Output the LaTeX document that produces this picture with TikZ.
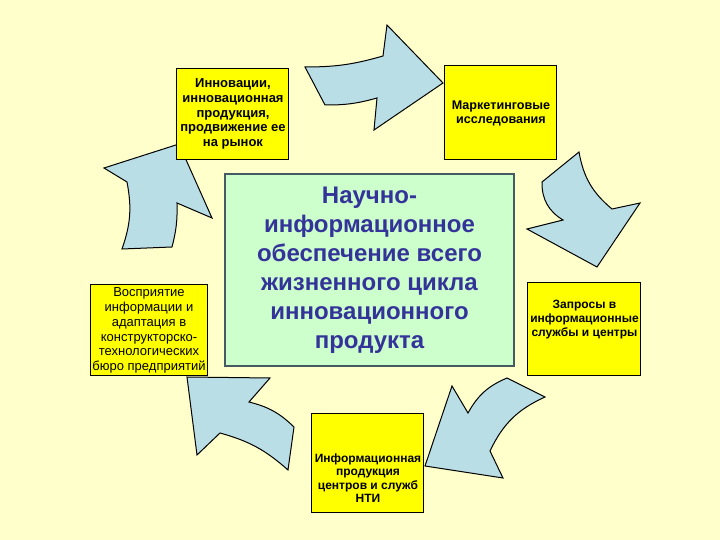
\documentclass[tikz,border=0pt]{standalone}
\usepackage{fontspec}
\setmainfont{Liberation Sans}
\usetikzlibrary{shapes,positioning}

\definecolor{bgyellow}{RGB}{255,255,204}
\definecolor{boxyellow}{RGB}{255,255,0}
\definecolor{corefill}{RGB}{204,255,204}
\definecolor{coretext}{RGB}{51,51,153}
\definecolor{coreline}{RGB}{70,90,100}
\definecolor{arrowblue}{RGB}{185,222,230}

\begin{document}
\begin{tikzpicture}[x=0.5pt, y=-0.5pt,
  infobox/.style={rectangle, draw=black, line width=0.5pt, fill=boxyellow, inner sep=1pt, align=center, font=\bfseries\fontsize{6.3}{7}\selectfont},
  corebox/.style={rectangle, draw=coreline, line width=0.6pt, fill=corefill, text=coretext, align=center, font=\bfseries\fontsize{12}{14.5}\selectfont},
  cyclearrow/.style={draw=black, line width=0.5pt, fill=arrowblue, line join=miter}]
\useasboundingbox (0,0) rectangle (720,540);
\fill[bgyellow] (0,0) rectangle (720,540);

\draw[cyclearrow] (305,67) to[bend right=8] (383,56) -- (387,25) -- (443,83) -- (374,130) -- (377,98) to[bend left=8] (325,105) -- cycle;
\draw[cyclearrow] (579,152) to[bend right=20] (612,209) -- (640,203) -- (597,267) -- (527,229) -- (563,220) to[bend left=30] (542,182) -- cycle;
\draw[cyclearrow] (545,397) to[bend right=20] (490,451) -- (503,478) -- (425,466) -- (452,386) -- (468,413) to[bend left=19] (507,378) -- cycle;
\draw[cyclearrow] (288,470) to[bend right=13] (220,433) -- (197,455) -- (187,377) -- (270,378) -- (249,402) to[bend left=15] (294,427) -- cycle;
\draw[cyclearrow] (122,249) to[bend right=15] (127,182) -- (104,168) -- (179,144) -- (212,218) -- (177,203) to[bend left=8] (172,247) -- cycle;

\node[infobox, minimum width=56pt, minimum height=45.5pt, font=\bfseries\fontsize{6.5}{7.3}\selectfont] (innov) at (233,114) {Инновации,\\инновационная\\продукция,\\продвижение ее\\на рынок};
\node[infobox, minimum width=56pt, minimum height=47pt] (market) at (501,113) {Маркетинговые\\исследования};
\node[infobox, minimum width=56.5pt, minimum height=46.5pt, font=\bfseries\fontsize{6}{7}\selectfont] (queries) at (584.5,329.5) {Запросы в\\информационные\\службы и центры\\[4pt]\mbox{}};
\node[infobox, minimum width=57pt, minimum height=45.5pt, font=\fontsize{6.5}{7.4}\selectfont] (design) at (149,330.5) {Восприятие\\информации и\\адаптация в\\конструкторско-\\технологических\\бюро предприятий};
\node[infobox, minimum width=56pt, minimum height=49.5pt, font=\bfseries\fontsize{6}{6.6}\selectfont] (product) at (368,463.5) {\mbox{}\\[12.4pt]Информационная\\продукция\\центров и служб\\НТИ};
\node[corebox, minimum width=144.5pt, minimum height=96pt] (core) at (369.5,270) {Научно-\\информационное\\обеспечение всего\\жизненного цикла\\инновационного\\продукта};
\end{tikzpicture}
\end{document}
